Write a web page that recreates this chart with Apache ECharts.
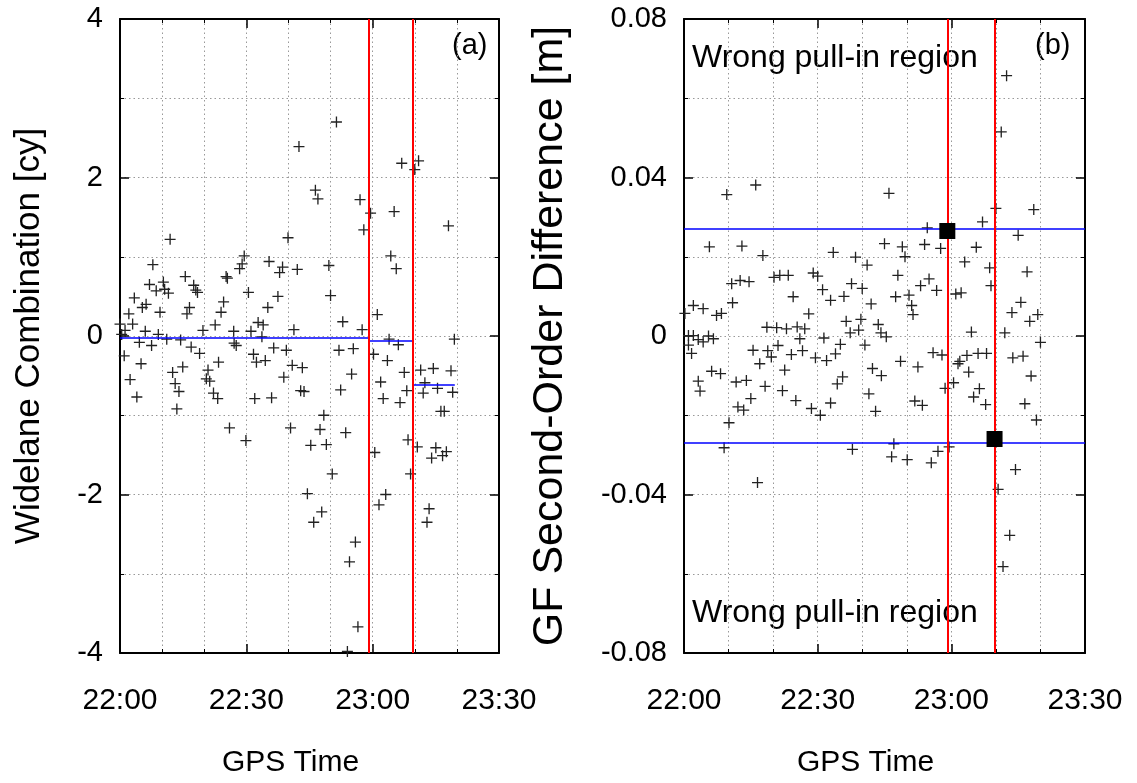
<!DOCTYPE html>
<html>
<head>
<meta charset="utf-8">
<script src="https://cdn.jsdelivr.net/npm/echarts@6/dist/echarts.min.js"></script>
<style>
  html, body { margin: 0; padding: 0; background: #fff; }
  #main { width: 1137px; height: 783px; }
</style>
</head>
<body>
<div id="main"></div>
<script>
// minutes after 22:00 for every epoch, panel (a)
const wlTime = [
    42.5, 11.9, 39.9, 7.8, 29.5, 35.4, 38.6, 37.9, 42.1, 28.4,
    29.0, 15.5, 25.2, 25.5, 7.0, 10.3, 10.6, 8.6, 11.5, 17.5,
    18.0, 18.4, 3.4, 30.5, 37.5, 24.6, 6.2, 5.3, 16.5, 35.1,
    2.1, 9.5, 15.9, 24.0, 3.0, 0.0, 1.2, 6.0, 19.7, 22.6,
    27.0, 31.1, 32.8, 34.0, 41.3, 9.1, 0.4,
    11.1, 4.6, 7.5, 14.4, 16.9, 18.9, 27.1, 27.6, 33.7, 36.5,
    39.5, 1.0, 5.0, 23.4, 31.7, 32.4, 34.5, 40.9, 43.3, 12.5,
    14.9, 20.9, 20.5, 21.3, 38.9, 2.4, 13.1, 14.0, 22.2, 23.2,
    42.9, 43.7, 4.0, 32.0, 36.0, 13.5, 26.0, 40.5, 29.9, 45.3,
    44.5, 46.0,
    51.4, 66.9, 70.9, 70.0, 46.4, 47.0, 57.0, 59.5, 65.1, 57.9,
    78.0, 49.6, 64.3, 65.6, 50.0, 61.1, 52.9, 57.5,
    63.9, 66.1, 79.4, 52.0, 55.4, 60.2, 63.5, 55.0, 67.5, 71.4,
    74.4, 78.6, 72.4, 52.4, 61.9, 68.1, 72.0, 75.4, 79.0, 62.5,
    66.5, 76.2, 77.0, 48.4, 47.5, 53.6, 68.4, 70.6, 49.0, 60.5,
    75.0, 77.5, 74.0, 76.6, 50.4, 69.0, 63.1, 61.5, 47.9, 73.4,
    72.9, 55.9, 54.5, 56.5, 54.0
];
// widelane combination [cy]
const wlValue = [
    2.39, 1.22, 1.24, 0.90, 1.01, 0.94, 0.87, 0.80, 0.84, 0.85,
    0.91, 0.75, 0.75, 0.73, 0.65, 0.68, 0.59, 0.57, 0.54, 0.64,
    0.58, 0.55, 0.48, 0.55, 0.50, 0.43, 0.40, 0.36, 0.36, 0.36,
    0.28, 0.30, 0.28, 0.30, 0.15, 0.15, 0.07, 0.06, 0.07, 0.14,
    0.06, 0.06, 0.17, 0.14, 0.08, 0.02, 0.02,
    -0.04, -0.08, -0.12, -0.05, -0.14, -0.22, -0.09, -0.12, -0.01, -0.15,
    -0.18, -0.25, -0.35, -0.33, -0.23, -0.33, -0.31, -0.37, -0.40, -0.46,
    -0.39, -0.43, -0.54, -0.57, -0.52, -0.55, -0.60, -0.70, -0.72, -0.79,
    -0.69, -0.70, -0.77, -0.79, -0.78, -0.92, -1.16, -1.16, -1.32, -1.38,
    -1.99, -2.35,
    2.70, 2.18, 2.21, 2.10, 1.84, 1.73, 1.72, 1.55, 1.57, 1.34,
    1.39, 0.89, 1.01, 0.85, 0.51, 0.27, 0.18, 0.08,
    -0.04, -0.11, -0.04, -0.18, -0.16, -0.23, -0.31, -0.48, -0.46, -0.43,
    -0.41, -0.44, -0.59, -0.68, -0.58, -0.69, -0.72, -0.66, -0.71, -0.79,
    -0.84, -0.95, -0.95, -1.00, -1.18, -1.22, -1.31, -1.40, -1.37, -1.47,
    -1.41, -1.46, -1.54, -1.51, -1.74, -1.74, -2.00, -2.13, -2.22, -2.18,
    -2.35, -2.60, -2.85, -3.67, -3.98
];

// mean widelane per arc (blue steps)
const wlArcStart = [0, 59.0, 69.8];
const wlArcEnd = [59.0, 69.5, 79.5];
const wlArcMean = [-0.02, -0.06, -0.61];
const wlSlips = [59.0, 69.5];

// panel (b)
const gfTime = [
    9.6, 16.1, 46.0, 5.7, 13.0, 17.7, 33.5, 38.5, 41.1, 45.0,
    10.7, 12.6, 14.6, 20.2, 21.5, 23.4, 29.0, 30.0, 31.1, 32.9,
    24.5, 35.9, 37.6, 40.0, 42.0, 10.9, 2.1, 4.3, 0.2, 7.3,
    8.4, 28.0, 36.4, 39.7, 43.6, 18.6, 20.8, 23.0, 25.4, 27.1,
    2.1, 5.5, 37.3, 39.2, 44.2,
    1.0, 3.2, 4.3, 6.6, 1.0, 1.7, 6.2, 8.2, 3.2, 3.6,
    15.5, 18.8, 19.6, 21.1, 24.1, 26.6, 26.0, 31.4, 29.5, 32.0,
    34.0, 35.1, 40.6, 17.0, 22.6, 11.7, 14.0, 18.2, 22.1, 15.0,
    12.1, 13.4, 25.1, 28.6, 30.6, 32.9, 34.4, 35.6, 41.5, 42.3,
    44.3, 43.0, 10.1, 9.0, 37.8, 46.6, 16.5,
    72.4, 71.2, 70.0, 78.5, 67.0, 54.6, 75.0, 49.0, 54.0, 57.6,
    49.6, 65.6, 63.0, 68.6, 68.9, 77.0, 48.0, 55.0, 53.1, 56.7,
    61.0, 62.2, 47.5, 50.5, 51.1, 51.4, 75.6, 73.6, 77.6, 79.4,
    64.5, 72.0,
    45.4, 80.0, 55.9, 57.9, 48.6, 52.5, 61.5, 61.9, 63.5, 66.0,
    67.9, 73.8, 76.1, 63.9, 77.9, 60.5, 58.6, 66.3, 65.0, 67.7,
    51.8, 53.5, 76.5, 79.1, 47.1, 50.1, 55.5, 57.0, 59.5, 74.4,
    70.5, 73.1, 71.6
];
// GF second-order difference [m]
const gfValue = [
    0.0357, 0.0381, 0.0360, 0.0225, 0.0227, 0.0203, 0.0211, 0.0199, 0.0179, 0.0233,
    0.0132, 0.0140, 0.0137, 0.0148, 0.0153, 0.0153, 0.0159, 0.0151, 0.0117, 0.0090,
    0.0099, 0.0100, 0.0132, 0.0120, 0.0081, 0.0084, 0.0077, 0.0069, 0.0057, 0.0052,
    0.0057, 0.0056, 0.0037, 0.0042, 0.0029, 0.0022, 0.0021, 0.0018, 0.0023, 0.0018,
    0.0001, 0.0000, 0.0008, 0.0015, 0.0008,
    0.0001, -0.0009, -0.0015, -0.0007, -0.0023, -0.0044, -0.0089, -0.0095, -0.0114, -0.0139,
    -0.0036, -0.0037, -0.0053, -0.0024, -0.0047, -0.0037, -0.0007, -0.0005, -0.0055, -0.0062,
    -0.0045, -0.0021, -0.0023, -0.0070, -0.0086, -0.0116, -0.0112, -0.0127, -0.0138, -0.0158,
    -0.0179, -0.0187, -0.0163, -0.0183, -0.0200, -0.0169, -0.0121, -0.0103, -0.0146, -0.0082,
    -0.0100, -0.0190, -0.0219, -0.0282, -0.0286, -0.0305, -0.0370,
    0.0657, 0.0515, 0.0322, 0.0319, 0.0288, 0.0273, 0.0254, 0.0225, 0.0231, 0.0221,
    0.0200, 0.0224, 0.0187, 0.0172, 0.0127, 0.0162, 0.0153, 0.0144, 0.0127, 0.0115,
    0.0106, 0.0109, 0.0099, 0.0103, 0.0077, 0.0054, 0.0085, 0.0059, 0.0037, 0.0054,
    0.0010, 0.0008,
    -0.0002, -0.0016, -0.0042, -0.0048, -0.0064, -0.0078, -0.0070, -0.0064, -0.0049, -0.0044,
    -0.0044, -0.0055, -0.0051, -0.0091, -0.0101, -0.0118, -0.0132, -0.0133, -0.0154, -0.0173,
    -0.0164, -0.0175, -0.0171, -0.0212, -0.0272, -0.0312, -0.0320, -0.0291, -0.0280, -0.0337,
    -0.0387, -0.0503, -0.0582
];
const gfThreshold = [0.027, -0.027];
const gfSlips = [59.1, 69.7];
const gfDetectTime = [59.1, 69.7];
const gfDetectValue = [0.0265, -0.026];

const xTickLabels = ['22:00', '22:30', '23:00', '23:30'];

const FONT = 'Liberation Sans';
const plus = 'path://M0,4.4H10V5.6H0Z M4.4,0H5.6V10H4.4Z';
const dotted = { color: '#999', type: [1.5, 3], width: 1 };

const zip = (a, b) => a.map((t, i) => [t, b[i]]);

function xAxes(gi) {
    const base = {
        gridIndex: gi, type: 'value', min: 0, max: 90, interval: 30,
        axisLine: { show: true, onZero: false, lineStyle: { color: '#000', width: 2 } },
        axisTick: { show: true, inside: true, length: 9, lineStyle: { color: '#000', width: 1.5 } },
        minorTick: { show: true, splitNumber: 3, length: 4, lineStyle: { color: '#000', width: 1 } }
    };
    return [
        Object.assign({}, base, {
            position: 'bottom',
            name: 'GPS Time', nameLocation: 'middle', nameGap: 95,
            nameTextStyle: { fontFamily: FONT, fontSize: 30, color: '#000', padding: [0, 38, 0, 0] },
            axisLabel: {
                fontFamily: FONT, fontSize: 30, color: '#000', margin: 33,
                formatter: (v) => xTickLabels[Math.round(v / 30)]
            },
            splitLine: { show: true, lineStyle: dotted },
            minorSplitLine: { show: true, lineStyle: dotted }
        }),
        Object.assign({}, base, {
            position: 'top', axisLabel: { show: false }, splitLine: { show: false }
        })
    ];
}

function yAxes(gi, min, max, interval, name, nameSize, nameGap, fmt) {
    const base = {
        gridIndex: gi, type: 'value', min: min, max: max, interval: interval,
        axisLine: { show: true, onZero: false, lineStyle: { color: '#000', width: 2 } },
        axisTick: { show: true, inside: true, length: 9, lineStyle: { color: '#000', width: 1.5 } },
        minorTick: { show: true, splitNumber: 2, length: 4, lineStyle: { color: '#000', width: 1 } }
    };
    return [
        Object.assign({}, base, {
            position: 'left',
            name: name, nameLocation: 'middle', nameGap: nameGap,
            nameTextStyle: { fontFamily: FONT, fontSize: nameSize, color: '#000' },
            axisLabel: { fontFamily: FONT, fontSize: 29, color: '#000', margin: 17, formatter: fmt },
            splitLine: { show: true, lineStyle: dotted },
            minorSplitLine: { show: true, lineStyle: dotted }
        }),
        Object.assign({}, base, {
            position: 'right', axisLabel: { show: false }, splitLine: { show: false }
        })
    ];
}

const chart = echarts.init(document.getElementById('main'), null, { renderer: 'canvas' });

const redLine = { color: '#f00', width: 2, type: 'solid' };
const blueLine = { color: '#00f', width: 1.5, type: 'solid' };
const markBase = { silent: true, symbol: 'none', precision: 4, label: { show: false } };

const option = {
    animation: false,
    backgroundColor: '#fff',
    grid: [
        { left: 120, top: 19, width: 379, height: 634 },
        { left: 684, top: 19, width: 401, height: 634 }
    ],
    xAxis: [].concat(xAxes(0), xAxes(1)),
    yAxis: [].concat(
        yAxes(0, -4, 4, 2, 'Widelane Combination [cy]', 35, 73, (v) => String(v)),
        yAxes(1, -0.08, 0.08, 0.04, 'GF Second-Order Difference [m]', 43, 112,
            (v) => (Math.abs(v) < 1e-9 ? '0' : v.toFixed(2)))
    ),
    series: [
        {
            type: 'scatter', xAxisIndex: 0, yAxisIndex: 0,
            data: zip(wlTime, wlValue),
            symbol: plus, symbolSize: 11,
            itemStyle: { color: '#222', opacity: 1 },
            z: 3
        },
        {
            type: 'line', xAxisIndex: 0, yAxisIndex: 0, data: [], silent: true,
            markLine: Object.assign({}, markBase, {
                lineStyle: blueLine,
                data: wlArcMean.map((m, i) => [
                    { coord: [wlArcStart[i], m] },
                    { coord: [wlArcEnd[i], m] }
                ])
            })
        },
        {
            type: 'line', xAxisIndex: 0, yAxisIndex: 0, data: [], silent: true,
            markLine: Object.assign({}, markBase, {
                lineStyle: redLine,
                data: wlSlips.map((t) => ({ xAxis: t }))
            })
        },
        {
            type: 'scatter', xAxisIndex: 2, yAxisIndex: 2,
            data: zip(gfTime, gfValue),
            symbol: plus, symbolSize: 11,
            itemStyle: { color: '#222', opacity: 1 },
            z: 3
        },
        {
            type: 'line', xAxisIndex: 2, yAxisIndex: 2, data: [], silent: true,
            markLine: Object.assign({}, markBase, {
                lineStyle: blueLine,
                data: gfThreshold.map((v) => ({ yAxis: v }))
            })
        },
        {
            type: 'line', xAxisIndex: 2, yAxisIndex: 2, data: [], silent: true,
            markLine: Object.assign({}, markBase, {
                lineStyle: redLine,
                data: gfSlips.map((t) => ({ xAxis: t }))
            })
        },
        {
            type: 'scatter', xAxisIndex: 2, yAxisIndex: 2,
            data: zip(gfDetectTime, gfDetectValue),
            symbol: 'rect', symbolSize: 16,
            itemStyle: { color: '#000', opacity: 1 },
            z: 5
        }
    ],
    graphic: [
        { type: 'text', left: 452, top: 31, style: { text: '(a)', font: '29px "Liberation Sans"', fill: '#000' } },
        { type: 'text', left: 1035, top: 31, style: { text: '(b)', font: '29px "Liberation Sans"', fill: '#000' } },
        { type: 'text', left: 692, top: 42, style: { text: 'Wrong pull-in region', font: '32px "Liberation Sans"', fill: '#000' } },
        { type: 'text', left: 692, top: 597, style: { text: 'Wrong pull-in region', font: '32px "Liberation Sans"', fill: '#000' } }
    ]
};

chart.setOption(option);
</script>
</body>
</html>
